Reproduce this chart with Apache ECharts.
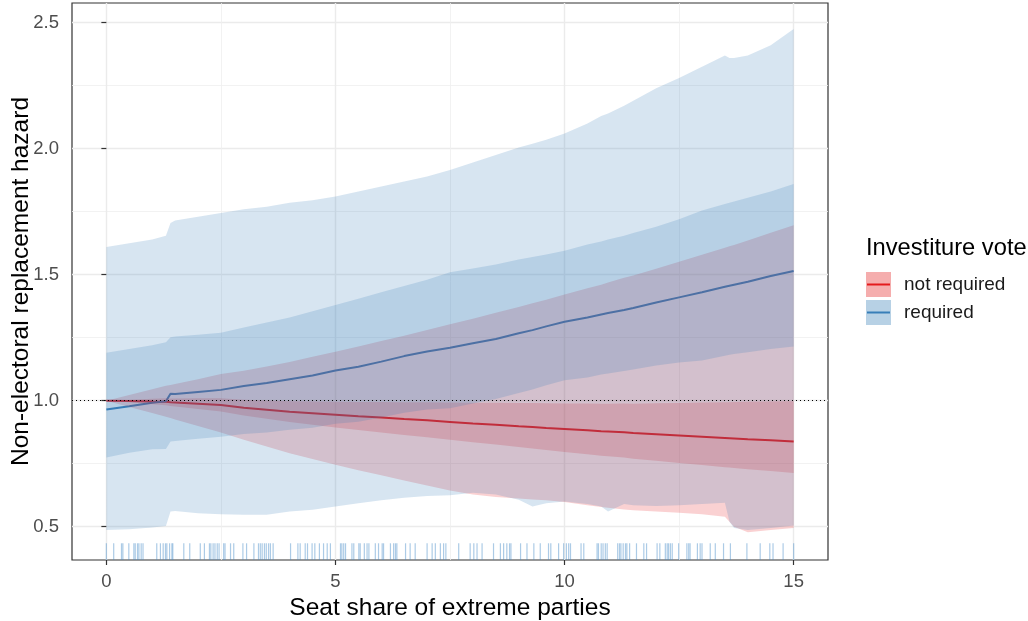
<!DOCTYPE html>
<html>
<head>
<meta charset="utf-8">
<title>Non-electoral replacement hazard</title>
<script src="https://cdn.jsdelivr.net/npm/echarts@6/dist/echarts.min.js"></script>
<style>
  html, body { margin: 0; padding: 0; background: #ffffff; }
  #chart { width: 1028px; height: 621px; }
</style>
</head>
<body>
<div id="chart"></div>
<script>
// Seat share of extreme parties (x positions shared by every line and ribbon)
const seat = [0, 0.5, 1, 1.3, 1.4, 1.5, 2, 2.5, 3, 3.5, 4, 4.5, 5, 5.5, 6, 6.5, 7, 7.5, 8, 8.5,
  9, 9.3, 9.6, 10, 10.5, 10.8, 10.95, 11.3, 11.5, 12, 12.5, 13, 13.5, 13.6, 13.7, 14, 14.5, 15];

// Investiture vote required: hazard ratio and its two intervals
const hrRequired = [0.965, 0.978, 0.992, 0.998, 1.028, 1.027, 1.035, 1.043, 1.058, 1.070, 1.085, 1.100,
  1.120, 1.135, 1.155, 1.177, 1.195, 1.210, 1.228, 1.245, 1.268, 1.280, 1.295, 1.313, 1.330, 1.342,
  1.348, 1.360, 1.368, 1.390, 1.410, 1.430, 1.452, 1.456, 1.460, 1.472, 1.495, 1.515];
const reqInnerHi = [1.190, 1.205, 1.220, 1.232, 1.252, 1.255, 1.262, 1.270, 1.290, 1.310, 1.330, 1.355,
  1.380, 1.405, 1.430, 1.455, 1.480, 1.510, 1.525, 1.540, 1.560, 1.570, 1.580, 1.595, 1.620, 1.632,
  1.640, 1.655, 1.665, 1.690, 1.720, 1.755, 1.780, 1.785, 1.790, 1.805, 1.830, 1.860];
const reqInnerLo = [0.775, 0.794, 0.807, 0.808, 0.838, 0.840, 0.849, 0.857, 0.868, 0.874, 0.885, 0.893,
  0.909, 0.917, 0.933, 0.952, 0.965, 0.970, 0.989, 1.007, 1.031, 1.044, 1.061, 1.081, 1.092, 1.104,
  1.108, 1.118, 1.124, 1.140, 1.152, 1.160, 1.178, 1.182, 1.185, 1.192, 1.205, 1.215];
const reqOuterHi = [1.610, 1.625, 1.640, 1.655, 1.705, 1.715, 1.730, 1.745, 1.760, 1.770, 1.785, 1.795,
  1.810, 1.830, 1.850, 1.870, 1.890, 1.915, 1.945, 1.975, 2.005, 2.020, 2.035, 2.060, 2.100, 2.130,
  2.140, 2.170, 2.190, 2.240, 2.280, 2.325, 2.370, 2.360, 2.360, 2.370, 2.410, 2.475];
const reqOuterLo = [0.487, 0.490, 0.497, 0.503, 0.560, 0.562, 0.553, 0.550, 0.548, 0.548, 0.560, 0.567,
  0.580, 0.593, 0.605, 0.615, 0.622, 0.625, 0.635, 0.628, 0.607, 0.580, 0.593, 0.600, 0.590, 0.580,
  0.560, 0.590, 0.585, 0.582, 0.585, 0.590, 0.595, 0.520, 0.495, 0.487, 0.495, 0.505];

// Investiture vote not required: hazard ratio and its two intervals
const hrNotRequired = [1.000, 0.999, 0.997, 0.996, 0.994, 0.993, 0.988, 0.983, 0.972, 0.964, 0.956, 0.950,
  0.944, 0.938, 0.933, 0.927, 0.922, 0.916, 0.910, 0.905, 0.899, 0.896, 0.892, 0.888, 0.883, 0.879,
  0.878, 0.875, 0.872, 0.867, 0.862, 0.857, 0.852, 0.851, 0.850, 0.847, 0.843, 0.838];
const notInnerHi = [1.000, 1.004, 1.008, 1.010, 1.009, 1.009, 1.010, 1.010, 1.004, 1.001, 0.998, 0.997,
  0.996, 0.995, 0.995, 0.994, 0.994, 0.993, 0.992, 0.992, 0.991, 0.991, 0.990, 0.989, 0.989, 0.988,
  0.988, 0.989, 0.988, 0.990, 0.991, 0.993, 0.994, 0.994, 0.995, 0.996, 0.997, 0.998];
const notInnerLo = [1.000, 0.994, 0.986, 0.982, 0.979, 0.977, 0.967, 0.957, 0.941, 0.928, 0.916, 0.905,
  0.894, 0.884, 0.874, 0.864, 0.855, 0.845, 0.835, 0.826, 0.816, 0.810, 0.804, 0.797, 0.788, 0.782,
  0.780, 0.775, 0.770, 0.762, 0.753, 0.745, 0.736, 0.735, 0.733, 0.728, 0.721, 0.713];
const notOuterHi = [1.000, 1.023, 1.045, 1.059, 1.062, 1.066, 1.085, 1.106, 1.119, 1.136, 1.154, 1.174,
  1.194, 1.215, 1.237, 1.258, 1.281, 1.303, 1.325, 1.349, 1.372, 1.387, 1.401, 1.421, 1.446, 1.460,
  1.469, 1.488, 1.497, 1.524, 1.551, 1.579, 1.607, 1.613, 1.618, 1.636, 1.666, 1.696];
const notOuterLo = [1.000, 0.975, 0.951, 0.936, 0.931, 0.925, 0.900, 0.874, 0.845, 0.818, 0.792, 0.769,
  0.746, 0.724, 0.704, 0.683, 0.664, 0.644, 0.628, 0.618, 0.612, 0.608, 0.605, 0.598, 0.585, 0.578,
  0.575, 0.568, 0.565, 0.560, 0.555, 0.550, 0.540, 0.520, 0.500, 0.478, 0.487, 0.495];

// Observed seat shares, drawn as a rug along the bottom of the panel
const rugSeat = [0.00, 0.16, 0.33, 0.36, 0.49, 0.60, 0.63, 0.68, 0.71, 0.76, 0.80, 1.10, 1.18, 1.24,
  1.29, 1.32, 1.38, 1.43, 1.45, 1.69, 1.82, 2.05, 2.14, 2.25, 2.28, 2.33, 2.37, 2.42, 2.46, 2.56,
  2.59, 2.71, 2.78, 2.98, 3.06, 3.22, 3.32, 3.36, 3.40, 3.45, 3.49, 3.54, 3.58, 3.64, 4.02, 4.18,
  4.23, 4.34, 4.39, 4.49, 4.55, 4.65, 4.74, 4.82, 4.89, 5.11, 5.14, 5.18, 5.22, 5.36, 5.40, 5.51,
  5.54, 5.63, 5.69, 5.73, 5.87, 5.94, 6.02, 6.05, 6.20, 6.27, 6.31, 6.34, 6.53, 6.63, 6.74, 7.00,
  7.11, 7.18, 7.29, 7.36, 7.41, 7.69, 7.94, 8.02, 8.09, 8.20, 8.45, 8.60, 8.67, 8.74, 8.80, 8.83,
  9.04, 9.18, 9.33, 9.47, 9.65, 9.70, 9.87, 9.98, 10.04, 10.09, 10.13, 10.36, 10.42, 10.71, 10.74,
  10.80, 10.84, 10.89, 10.93, 11.16, 11.20, 11.23, 11.28, 11.33, 11.36, 11.42, 11.57, 11.73, 11.79,
  12.02, 12.08, 12.20, 12.24, 12.27, 12.31, 12.35, 12.49, 12.67, 12.71, 12.74, 12.90, 12.96, 13.00,
  13.18, 13.29, 13.47, 13.62, 13.98, 14.27, 14.48, 14.55, 14.77, 15.00];

// Axis ticks
const xTicks = [0, 5, 10, 15];
const xMinorTicks = [2.5, 7.5, 12.5];
const yTicks = [0.5, 1.0, 1.5, 2.0, 2.5];
const yMinorTicks = [0.75, 1.25, 1.75, 2.25];

const RED = '#E41A1C';
const BLUE = '#377EB8';
const FONT = '"Liberation Sans", Arial, sans-serif';
const X_MIN = -0.75, X_MAX = 15.75;
const Y_MIN = 0.368, Y_MAX = 2.578;

// Legend key stroke: a thin bar across the middle of a full-size key box
const KEY_LINE = 'path://M0,0L0,0M25,25L25,25M1,11.5H24V13.5H1Z';

// A shaded interval drawn as one polygon through the axis scales
function ribbon(name, lo, hi, fill, z) {
  const rows = seat.map((x, i) => [x, lo[i], hi[i]]);
  return {
    type: 'custom', name, z, silent: true,
    data: rows,
    encode: { x: 0, y: [1, 2] },
    renderItem(params, api) {
      if (params.dataIndex !== 0) return null;
      const upper = rows.map(r => api.coord([r[0], r[2]]));
      const lower = rows.map(r => api.coord([r[0], r[1]])).reverse();
      return { type: 'polygon', shape: { points: upper.concat(lower) }, style: { fill } };
    }
  };
}

function hrLine(name, values, color, z) {
  return {
    type: 'line', name, z, silent: true,
    data: seat.map((x, i) => [x, values[i]]),
    showSymbol: false,
    lineStyle: { color, width: 2 },
    itemStyle: { color }
  };
}

const legendBase = {
  orient: 'vertical', left: 866, top: 272, padding: 0,
  itemWidth: 25, itemHeight: 25, itemGap: 3, selectedMode: false
};

const chart = echarts.init(document.getElementById('chart'), null, { renderer: 'canvas' });

chart.setOption({
  animation: false,
  backgroundColor: '#ffffff',
  textStyle: { fontFamily: FONT },
  title: {
    text: 'Investiture vote',
    left: 866, top: 236, padding: 0,
    textStyle: { fontFamily: FONT, fontSize: 23.7, fontWeight: 'normal', color: '#000000' }
  },
  legend: [
    Object.assign({}, legendBase, {
      icon: 'rect',
      textStyle: { fontFamily: FONT, fontSize: 19, color: '#1a1a1a', padding: [0, 0, 0, 8] },
      data: [
        { name: 'not required', itemStyle: { color: '#F5ADAD' } },
        { name: 'required', itemStyle: { color: '#B7D1E5' } }
      ]
    }),
    Object.assign({}, legendBase, {
      icon: KEY_LINE,
      textStyle: { fontFamily: FONT, fontSize: 19, color: 'rgba(0,0,0,0)', padding: [0, 0, 0, 8] },
      data: [
        { name: 'not required', itemStyle: { color: RED } },
        { name: 'required', itemStyle: { color: BLUE } }
      ]
    })
  ],
  grid: {
    left: 72, right: 200, top: 3, bottom: 61,
    outerBoundsMode: 'none', containLabel: false,
    show: true, borderColor: '#333333', borderWidth: 1.2, backgroundColor: 'transparent'
  },
  xAxis: [
    {
      type: 'value', min: X_MIN, max: X_MAX,
      name: 'Seat share of extreme parties', nameLocation: 'middle', nameGap: 35,
      nameTextStyle: { fontFamily: FONT, fontSize: 24.5, color: '#000000' },
      axisLine: { show: false },
      axisTick: { show: true, customValues: xTicks, length: 5, lineStyle: { color: '#333333', width: 1.2 } },
      axisLabel: { customValues: xTicks, fontFamily: FONT, fontSize: 18.5, color: '#4D4D4D', margin: 12 },
      splitLine: { show: true, lineStyle: { color: '#EBEBEB', width: 1.4 } }
    },
    {
      type: 'value', min: X_MIN, max: X_MAX, position: 'bottom',
      axisLine: { show: false },
      axisTick: { show: false, customValues: xMinorTicks },
      axisLabel: { show: false, customValues: xMinorTicks },
      splitLine: { show: true, lineStyle: { color: '#EFEFEF', width: 0.8 } }
    }
  ],
  yAxis: [
    {
      type: 'value', min: Y_MIN, max: Y_MAX,
      name: 'Non-electoral replacement hazard', nameLocation: 'middle', nameGap: 38,
      nameMoveOverlap: false,
      nameTextStyle: { fontFamily: FONT, fontSize: 24.5, color: '#000000' },
      axisLine: { show: false },
      axisTick: { show: true, customValues: yTicks, length: 5, lineStyle: { color: '#333333', width: 1.2 } },
      axisLabel: {
        customValues: yTicks, fontFamily: FONT, fontSize: 18.5, color: '#4D4D4D', margin: 13,
        formatter: v => Number(v).toFixed(1)
      },
      splitLine: { show: true, lineStyle: { color: '#EBEBEB', width: 1.4 } }
    },
    {
      type: 'value', min: Y_MIN, max: Y_MAX, position: 'left',
      axisLine: { show: false },
      axisTick: { show: false, customValues: yMinorTicks },
      axisLabel: { show: false, customValues: yMinorTicks },
      splitLine: { show: true, lineStyle: { color: '#EFEFEF', width: 0.8 } }
    }
  ],
  series: [
    hrLine('not required', hrNotRequired, RED, 1),
    hrLine('required', hrRequired, BLUE, 1),
    ribbon('not required', notOuterLo, notOuterHi, 'rgba(228,26,28,0.2)', 2),
    ribbon('not required', notInnerLo, notInnerHi, 'rgba(228,26,28,0.2)', 2),
    ribbon('required', reqOuterLo, reqOuterHi, 'rgba(55,126,184,0.2)', 2),
    ribbon('required', reqInnerLo, reqInnerHi, 'rgba(55,126,184,0.2)', 2),
    {
      type: 'custom', name: 'rug', z: 3, silent: true,
      data: rugSeat.map(x => [x]),
      encode: { x: 0 },
      renderItem(params, api) {
        const cs = params.coordSys;
        const px = api.coord([api.value(0), Y_MIN])[0];
        const base = cs.y + cs.height;
        return {
          type: 'line',
          shape: { x1: px, y1: base, x2: px, y2: base - cs.height * 0.03 },
          style: { stroke: 'rgba(70,140,200,0.45)', lineWidth: 1.2 }
        };
      },
      markLine: {
        silent: true, symbol: 'none', animation: false,
        label: { show: false },
        lineStyle: { color: '#000000', type: [1, 3], width: 1.2 },
        data: [{ yAxis: 1 }]
      }
    }
  ]
});
</script>
</body>
</html>
